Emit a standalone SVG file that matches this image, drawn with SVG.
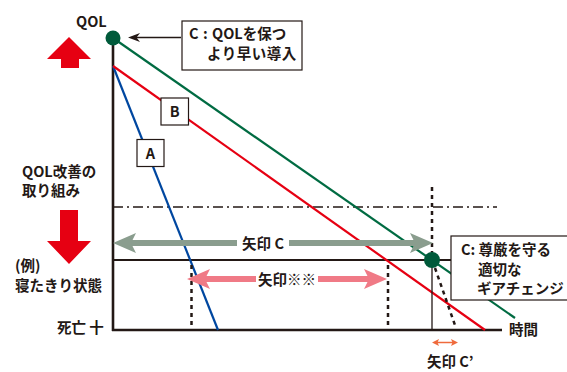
<svg xmlns="http://www.w3.org/2000/svg" width="567" height="372" viewBox="0 0 567 372">
<defs>
<style>
.t{font-family:"Noto Sans CJK JP","Noto Sans",sans-serif;font-size:14.5px;font-weight:700;fill:#231815}
.ax{stroke:#231815;fill:none}
.dash{stroke:#231815;stroke-width:2.5;stroke-dasharray:4 4;fill:none}
.box{fill:#fff;stroke:#231815;stroke-width:1.2}
</style>
</defs>
<rect width="567" height="372" fill="#fff"/>

<g id="axes">
<line class="ax" x1="113" y1="38" x2="113" y2="331" stroke-width="2.6"/>
<line class="ax" x1="112" y1="330" x2="502" y2="330" stroke-width="2.6"/>
<line class="ax" x1="113" y1="260" x2="455" y2="260" stroke-width="2"/>
<line class="ax" x1="113" y1="207" x2="497" y2="207" stroke-width="1.6" stroke-dasharray="10 4 2 4"/>
</g>

<g id="connectors">
<line x1="113" y1="66" x2="218" y2="330" stroke="#0047a0" stroke-width="2.2"/>
<line x1="113" y1="66" x2="485" y2="330" stroke="#e60012" stroke-width="2.2"/>
<line x1="113" y1="38" x2="515" y2="318" stroke="#006b42" stroke-width="2.2"/>
<line class="dash" x1="432" y1="187" x2="432" y2="254"/>
<line class="ax" x1="432" y1="260" x2="432" y2="330" stroke-width="1.3"/>
<line class="dash" x1="435" y1="268" x2="456" y2="328"/>
<line class="dash" x1="191.5" y1="265" x2="191.5" y2="328"/>
<line class="dash" x1="388" y1="265" x2="388" y2="328"/>
<g id="calloutArrow">
<line x1="181" y1="37.5" x2="132" y2="37.5" stroke="#231815" stroke-width="1.3"/>
<polygon points="128,37.5 140,33 136.5,37.5 140,42" fill="#231815"/>
</g>
<g id="arrowC">
<line x1="130" y1="243" x2="417" y2="243" stroke="#8a9d8e" stroke-width="6"/>
<polygon points="113,243 136,233 131,243 136,253" fill="#8a9d8e"/>
<polygon points="433,243 410,233 415,243 410,253" fill="#8a9d8e"/>
<rect x="237" y="233" width="52" height="20" fill="#fff"/>
<text class="t" x="263" y="248.5" text-anchor="middle">矢印 C</text>
</g>
<g id="arrowKome">
<line x1="203" y1="279" x2="372" y2="279" stroke="#f07a86" stroke-width="6"/>
<polygon points="187,279 210,269 205,279 210,289" fill="#f07a86"/>
<polygon points="387,279 364,269 369,279 364,289" fill="#f07a86"/>
<rect x="256" y="269" width="62" height="20" fill="#fff"/>
<text class="t" x="287" y="284.5" text-anchor="middle">矢印※※</text>
</g>
<g id="arrowCp">
<line x1="436" y1="342.5" x2="454" y2="342.5" stroke="#ef6a3c" stroke-width="1.5"/>
<polygon points="432,342.5 439,339 437.5,342.5 439,346" fill="#ef6a3c"/>
<polygon points="458,342.5 451,339 452.5,342.5 451,346" fill="#ef6a3c"/>
</g>
</g>

<g id="node-qol-start">
<circle cx="113" cy="38" r="7.5" fill="#005a3a"/>
</g>
<g id="node-c-point">
<circle cx="432" cy="260" r="8" fill="#005a3a"/>
</g>

<g id="node-A">
<rect class="box" x="137" y="139.5" width="27" height="27"/>
<text class="t" x="150.5" y="158.5" font-size="15" text-anchor="middle">A</text>
</g>
<g id="node-B">
<rect class="box" x="161" y="98" width="27.5" height="27"/>
<text class="t" x="174.8" y="117" font-size="15" text-anchor="middle">B</text>
</g>

<g id="node-callout-top">
<rect class="box" x="182" y="21" width="120" height="49"/>
<text class="t" x="189" y="39">C<tspan x="203">:</tspan><tspan x="212">QOLを保つ</tspan></text>
<text class="t" x="207" y="59" letter-spacing="0.5">より早い導入</text>
</g>

<g id="node-callout-right">
<rect class="box" x="451" y="236" width="125" height="64"/>
<text class="t" x="461" y="255">C: 尊厳を守る</text>
<text class="t" x="478" y="275">適切な</text>
<text class="t" x="477" y="294">ギアチェンジ</text>
</g>

<g id="labels">
<text class="t" x="76" y="27" font-size="15">QOL</text>
<text class="t" x="22" y="177">QOL改善の</text>
<text class="t" x="22" y="196">取り組み</text>
<text class="t" x="15" y="271">(例)</text>
<text class="t" x="15" y="291">寝たきり状態</text>
<text class="t" x="57" y="333">死亡 十</text>
<text class="t" x="509" y="335">時間</text>
<text class="t" x="427" y="367">矢印 C’</text>
</g>

<g id="arrows-updown">
<polygon points="69,37 91,59 79,59 79,68 61,68 61,59 47,59" fill="#e60012"/>
<polygon points="60,210 78,210 78,241 91,241 69,264 47,241 60,241" fill="#e60012"/>
</g>
</svg>
